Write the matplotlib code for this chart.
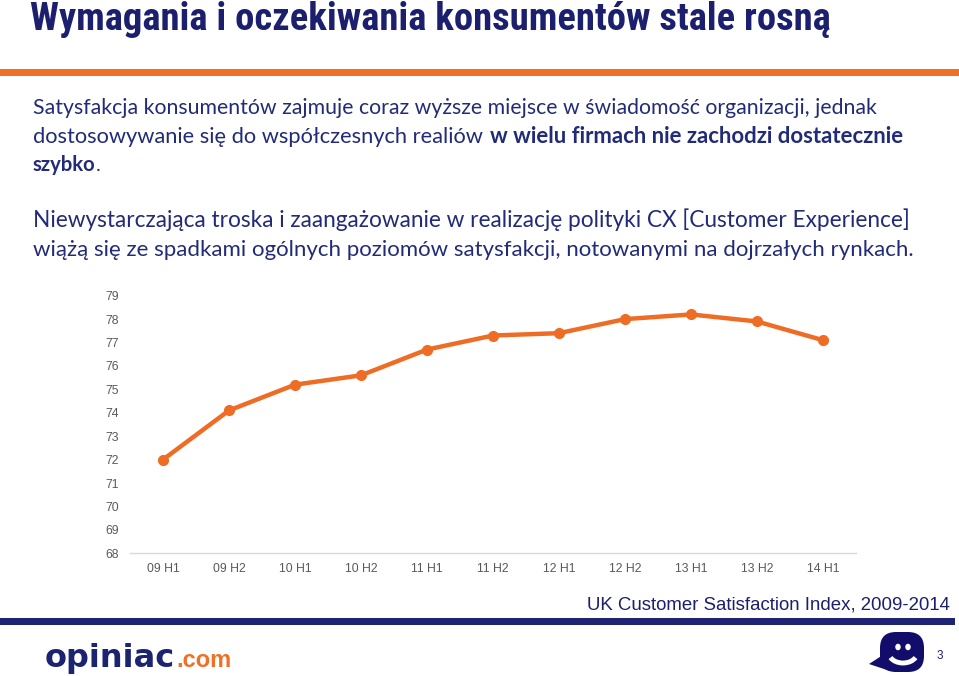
import matplotlib
matplotlib.use("Agg")
import matplotlib.pyplot as plt
from matplotlib import font_manager
from matplotlib.patches import Rectangle, Polygon, Ellipse, Arc, FancyBboxPatch

# ---- data ----
periods = ["09 H1", "09 H2", "10 H1", "10 H2", "11 H1", "11 H2",
           "12 H1", "12 H2", "13 H1", "13 H2", "14 H1"]
ukcsi = [72.0, 74.1, 75.2, 75.6, 76.7, 77.3, 77.4, 78.0, 78.2, 77.9, 77.1]
y_ticks = list(range(68, 80))

title = "Wymagania i oczekiwania konsumentów stale rosną"
p1_l1 = "Satysfakcja konsumentów zajmuje coraz wyższe miejsce w świadomość organizacji, jednak"
p1_l2a = "dostosowywanie się do współczesnych realiów "
p1_l2b = "w wielu firmach nie zachodzi dostatecznie"
p1_l3 = "szybko"
p2_l1 = "Niewystarczająca troska i zaangażowanie w realizację polityki CX [Customer Experience]"
p2_l2 = "wiążą się ze spadkami ogólnych poziomów satysfakcji, notowanymi na dojrzałych rynkach."
source = "UK Customer Satisfaction Index, 2009-2014"

W, H = 959, 676
NAVY = "#1c1f6e"
TEXT_NAVY = "#222b78"
ORANGE = "#ef7027"
LINE_OR = "#ef6c25"

def has_font(name):
    try:
        font_manager.findfont(name, fallback_to_default=False)
        return True
    except Exception:
        return False

body = "Lato" if has_font("Lato") else "DejaVu Sans"

# title font: prefer a condensed bold face
title_kw = dict(family=["Liberation Sans"], weight="bold")
for cand in ["Liberation Sans Narrow", "Roboto Condensed", "Open Sans Condensed"]:
    if has_font(cand):
        title_kw = dict(family=[cand, "DejaVu Sans"], weight="bold")
        break
else:
    try:
        fp = font_manager.FontProperties(family="DejaVu Sans", weight="bold", stretch="condensed")
        path = font_manager.findfont(fp, fallback_to_default=False)
        if "Condensed" in path:
            title_kw = dict(family=["DejaVu Sans"], weight="bold", fontstretch="condensed")
    except Exception:
        pass

fig = plt.figure(figsize=(W / 100, H / 100), dpi=100)
fig.patch.set_facecolor("white")
renderer = fig.canvas.get_renderer()

def fx(x):
    return x / W

def fy(y):
    return 1 - y / H

def fit(x, y, s, width, size0=14, **kw):
    t = fig.text(fx(x), fy(y), s, fontsize=size0, **kw)
    w = t.get_window_extent(renderer).width
    t.set_fontsize(size0 * width / w)
    return t

# ---- header ----
fit(30, 30, title, 803, 24, color=NAVY, va="baseline", **title_kw)
fig.add_artist(Rectangle((0, fy(76)), 1, 7 / H, transform=fig.transFigure,
                         color=ORANGE, lw=0))

# ---- body text ----
bk = dict(family=[body, "DejaVu Sans"], color=TEXT_NAVY, va="baseline")
fit(33, 114, p1_l1, 843, 15, **bk)
fit(33, 143, p1_l2a.rstrip(), 452, 15, **bk)
fit(490, 143, p1_l2b, 415, 15, weight="bold", **bk)
tb = fit(33, 171, p1_l3, 63, 15, weight="bold", **bk)
wb = tb.get_window_extent(renderer).width
fig.text(fx(33 + wb), fy(171), ".", fontsize=tb.get_fontsize(), **bk)
fit(33, 227, p2_l1, 879, 15, **bk)
fit(33, 256, p2_l2, 880, 15, **bk)

# ---- chart ----
ax = fig.add_axes([fx(130), fy(553.3), (856 - 130) / W, (553.3 - 295.7) / H])
x = list(range(len(periods)))
ax.plot(x, ukcsi, color=LINE_OR, lw=3.2, marker="o", markersize=7,
        markerfacecolor=LINE_OR, markeredgecolor=LINE_OR, clip_on=False,
        solid_joinstyle="round")
ax.set_xlim(-0.5, len(periods) - 0.5)
ax.set_ylim(68, 79)
ax.set_yticks(y_ticks)
ax.set_yticklabels([str(v) for v in y_ticks])
ax.set_xticks(x)
ax.set_xticklabels(periods)
for s in ["top", "right", "left"]:
    ax.spines[s].set_visible(False)
ax.spines["bottom"].set_color("#d9d9d9")
ax.spines["bottom"].set_linewidth(1)
ax.tick_params(axis="both", length=0, labelsize=8.8, labelcolor="#595959")
ax.tick_params(axis="y", pad=8)
ax.tick_params(axis="x", pad=7)
for lab in ax.get_xticklabels() + ax.get_yticklabels():
    lab.set_family("Liberation Sans")
ax.set_facecolor("none")

# ---- footer ----
fit(950, 610, source, 363, 13, family="Liberation Sans", color=NAVY,
    ha="right", va="baseline")
fig.add_artist(Rectangle((0, fy(625)), 955 / W, 7.5 / H, transform=fig.transFigure,
                         color="#1f2373", lw=0))

# logo text
to = fig.text(fx(45), fy(667), "opiniac", fontsize=26, weight="heavy",
              family="DejaVu Sans", color="#1c2471", va="baseline")
wo = to.get_window_extent(renderer).width
to.set_fontsize(26 * 130 / wo)
wo = to.get_window_extent(renderer).width
fig.text(fx(45 + wo + 1), fy(667), ".com", fontsize=17, weight="bold",
         family="Liberation Sans", color=ORANGE, va="baseline")

# smiley bubble
lx = fig.add_axes([fx(866), fy(675), 62 / W, 46 / H])
lx.set_xlim(0, 62)
lx.set_ylim(0, 46)
lx.axis("off")
lx.add_patch(FancyBboxPatch((14, 3), 44, 40, boxstyle="round,pad=0,rounding_size=16",
                            fc="#120d6a", ec="none"))
lx.add_patch(Polygon([[3, 11], [20, 22], [24, 4]], closed=True, fc="#120d6a", ec="none"))
lx.add_patch(Ellipse((32, 28), 5.5, 6.5, fc="white", ec="none"))
lx.add_patch(Ellipse((42, 28), 5.5, 6.5, fc="white", ec="none"))
lx.add_patch(Arc((37, 22), 28, 20, theta1=200, theta2=340, color="white", lw=3.5))

fig.text(fx(940), fy(659), "3", fontsize=8.5, family="Liberation Sans",
         color="#1c2471", ha="center", va="baseline")

fig.savefig("out.png", dpi=100, facecolor="white")
